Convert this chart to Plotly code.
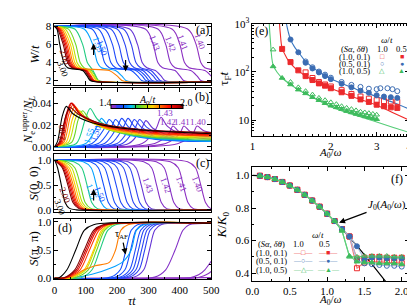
import plotly.graph_objects as go
from plotly.colors import sample_colorscale

# ---------------- data ----------------
A_vals = [1.40, 1.41, 1.42, 1.43, 1.44, 1.45, 1.46, 1.47, 1.48, 1.49, 1.50,
          1.55, 1.60, 1.65, 1.70, 1.75, 1.80, 1.85, 1.90, 1.95, 2.00, 3.00]

# panel (a): W/t levels and the times at which each curve reaches them
W_levels = [8.0, 7.7, 6.0, 4.0, 3.4, 3.1, 2.5, 2.0, 1.85, 1.85]
W_times = [
    [0, 425, 452, 467, 480, 515, 540, 555, 575, 600],
    [0, 375, 400, 415, 430, 480, 500, 512, 530, 600],
    [0, 330, 355, 370, 385, 435, 455, 467, 485, 600],
    [0, 290, 315, 330, 345, 385, 400, 412, 430, 600],
    [0, 240, 265, 280, 295, 322, 340, 352, 370, 600],
    [0, 220, 245, 260, 275, 308, 325, 337, 355, 600],
    [0, 200, 225, 240, 255, 295, 315, 327, 345, 600],
    [0, 180, 205, 220, 235, 282, 300, 312, 330, 600],
    [0, 160, 185, 200, 215, 270, 290, 302, 320, 600],
    [0, 140, 165, 180, 195, 260, 280, 292, 310, 600],
    [0, 120, 145, 160, 175, 245, 265, 278, 295, 600],
    [0, 95, 122, 137, 150, 195, 215, 228, 245, 600],
    [0, 65, 90, 105, 117, 123, 132, 140, 160, 600],
    [0, 45, 68, 82, 95, 118, 130, 140, 156, 600],
    [0, 35, 58, 72, 85, 112, 125, 135, 152, 600],
    [0, 28, 51, 65, 78, 110, 123, 133, 150, 600],
    [0, 23, 45, 59, 72, 175, 200, 215, 235, 600],
    [0, 19, 40, 54, 67, 104, 117, 127, 144, 600],
    [0, 16, 36, 50, 63, 101, 114, 124, 141, 600],
    [0, 13, 32, 46, 59, 98, 111, 121, 138, 600],
    [0, 10, 28, 42, 55, 95, 108, 118, 135, 600],
    [0, 8, 17, 30, 42, 90, 104, 114, 130, 600],
]

# panel (b): N_e^upper / N_L
B_times = [
    [0, 395, 442, 455, 475, 500],
    [0, 355, 400, 413, 433, 485, 540],
    [0, 320, 365, 378, 398, 450, 500],
    [0, 280, 325, 340, 360, 410, 460, 500],
    [0, 237, 277, 292, 314, 370, 440, 500],
    [0, 217, 257, 272, 294, 350, 430, 500],
    [0, 200, 240, 255, 277, 335, 420, 500],
    [0, 180, 220, 235, 257, 315, 405, 500],
    [0, 160, 200, 215, 237, 295, 390, 500],
    [0, 140, 180, 195, 217, 275, 375, 500],
    [0, 120, 160, 175, 197, 255, 360, 500],
    [0, 100, 135, 150, 172, 230, 340, 500],
    [0, 70, 98, 114, 138, 200, 320, 500],
    [0, 55, 75, 90, 115, 180, 305, 500],
    [0, 45, 65, 80, 105, 170, 300, 500],
    [0, 37, 57, 72, 97, 165, 295, 500],
    [0, 30, 50, 65, 90, 160, 290, 500],
    [0, 25, 45, 60, 85, 155, 285, 500],
    [0, 21, 41, 56, 81, 150, 280, 500],
    [0, 18, 38, 53, 78, 145, 275, 500],
    [0, 15, 35, 50, 75, 140, 270, 500],
    [0, 10, 25, 38, 60, 120, 250, 500],
]
B_vals = [
    [0, 0.003, 0.012, 0.019, 0.015, 0.013],
    [0, 0.003, 0.012, 0.019, 0.014, 0.011, 0.010],
    [0, 0.003, 0.012, 0.019, 0.014, 0.010, 0.009],
    [0, 0.003, 0.017, 0.027, 0.019, 0.011, 0.008, 0.007],
    [0, 0.003, 0.016, 0.024, 0.017, 0.010, 0.006, 0.005],
    [0, 0.003, 0.017, 0.025, 0.018, 0.010, 0.006, 0.005],
    [0, 0.003, 0.017, 0.025, 0.018, 0.010, 0.006, 0.005],
    [0, 0.003, 0.018, 0.026, 0.018, 0.010, 0.006, 0.005],
    [0, 0.003, 0.018, 0.026, 0.018, 0.010, 0.006, 0.005],
    [0, 0.003, 0.017, 0.025, 0.018, 0.010, 0.006, 0.005],
    [0, 0.003, 0.017, 0.025, 0.018, 0.010, 0.006, 0.005],
    [0, 0.003, 0.018, 0.026, 0.019, 0.011, 0.007, 0.005],
    [0, 0.003, 0.025, 0.035, 0.025, 0.014, 0.008, 0.006],
    [0, 0.004, 0.024, 0.033, 0.024, 0.015, 0.009, 0.007],
    [0, 0.004, 0.024, 0.033, 0.025, 0.016, 0.010, 0.008],
    [0, 0.004, 0.025, 0.034, 0.026, 0.017, 0.011, 0.009],
    [0, 0.004, 0.027, 0.037, 0.028, 0.018, 0.012, 0.010],
    [0, 0.004, 0.029, 0.039, 0.029, 0.019, 0.013, 0.010],
    [0, 0.004, 0.030, 0.040, 0.030, 0.020, 0.014, 0.011],
    [0, 0.004, 0.030, 0.040, 0.031, 0.021, 0.015, 0.012],
    [0, 0.004, 0.027, 0.036, 0.030, 0.022, 0.016, 0.013],
    [0, 0.005, 0.028, 0.037, 0.030, 0.022, 0.016, 0.012],
]

# panel (c): S(0,0) levels and crossing times
C_levels = [1.0, 0.97, 0.85, 0.5, 0.15, 0.03, 0.0, 0.0]
C_times = [
    [0, 425, 450, 467, 482, 498, 525, 600],
    [0, 370, 395, 411, 426, 442, 470, 600],
    [0, 325, 350, 366, 381, 397, 425, 600],
    [0, 285, 310, 326, 341, 357, 385, 600],
    [0, 235, 260, 277, 292, 308, 335, 600],
    [0, 215, 240, 257, 272, 288, 315, 600],
    [0, 195, 220, 237, 252, 268, 295, 600],
    [0, 175, 200, 217, 232, 248, 275, 600],
    [0, 155, 180, 197, 212, 228, 255, 600],
    [0, 135, 160, 177, 192, 208, 235, 600],
    [0, 115, 140, 157, 172, 188, 215, 600],
    [0, 92, 117, 134, 149, 165, 192, 600],
    [0, 62, 87, 104, 119, 136, 165, 600],
    [0, 40, 65, 83, 98, 116, 145, 600],
    [0, 30, 55, 73, 89, 107, 135, 600],
    [0, 22, 47, 66, 82, 100, 128, 600],
    [0, 17, 41, 60, 76, 94, 122, 600],
    [0, 13, 36, 55, 71, 89, 117, 600],
    [0, 10, 32, 51, 67, 85, 113, 600],
    [0, 8, 28, 47, 63, 81, 109, 600],
    [0, 6, 25, 43, 59, 77, 105, 600],
    [0, 3, 10, 22, 34, 48, 70, 600],
]

# panel (d): S(pi,pi)
D_times = [
    [0, 500],
    [0, 450, 475, 490, 500],
    [0, 430, 460, 480, 500],
    [0, 320, 355, 385, 410, 430, 600],
    [0, 255, 285, 303, 320, 340, 600],
    [0, 240, 270, 288, 305, 325, 600],
    [0, 230, 260, 278, 295, 315, 600],
    [0, 220, 250, 268, 285, 305, 600],
    [0, 210, 240, 258, 275, 295, 600],
    [0, 195, 225, 243, 260, 280, 600],
    [0, 180, 210, 228, 245, 265, 600],
    [0, 60, 120, 180, 220, 245, 262, 285, 600],
    [0, 85, 120, 145, 170, 195, 600],
    [0, 65, 108, 135, 160, 185, 600],
    [0, 55, 100, 128, 155, 180, 600],
    [0, 50, 95, 125, 150, 175, 600],
    [0, 50, 95, 130, 175, 195, 212, 235, 600],
    [0, 40, 82, 112, 142, 170, 600],
    [0, 36, 75, 105, 135, 165, 600],
    [0, 33, 70, 100, 130, 160, 600],
    [0, 30, 65, 95, 125, 155, 600],
    [0, 15, 40, 68, 95, 125, 600],
]
D_vals = [
    [0, 0.01],
    [0, 0.005, 0.04, 0.08, 0.12],
    [0, 0.005, 0.06, 0.15, 0.30],
    [0, 0.02, 0.15, 0.5, 0.85, 0.95, 0.96],
    [0, 0.02, 0.15, 0.5, 0.85, 0.95, 0.96],
    [0, 0.02, 0.15, 0.5, 0.85, 0.95, 0.96],
    [0, 0.02, 0.15, 0.5, 0.85, 0.95, 0.96],
    [0, 0.02, 0.15, 0.5, 0.85, 0.95, 0.96],
    [0, 0.02, 0.15, 0.5, 0.85, 0.95, 0.96],
    [0, 0.02, 0.15, 0.5, 0.85, 0.95, 0.96],
    [0, 0.02, 0.15, 0.5, 0.85, 0.95, 0.96],
    [0, 0.01, 0.07, 0.18, 0.30, 0.5, 0.85, 0.95, 0.96],
    [0, 0.01, 0.15, 0.5, 0.85, 0.95, 0.96],
    [0, 0.01, 0.15, 0.5, 0.85, 0.95, 0.96],
    [0, 0.01, 0.15, 0.5, 0.85, 0.95, 0.96],
    [0, 0.01, 0.15, 0.5, 0.85, 0.95, 0.96],
    [0, 0.02, 0.15, 0.22, 0.28, 0.5, 0.85, 0.95, 0.96],
    [0, 0.01, 0.15, 0.5, 0.85, 0.95, 0.96],
    [0, 0.01, 0.15, 0.5, 0.85, 0.95, 0.96],
    [0, 0.01, 0.15, 0.5, 0.85, 0.95, 0.96],
    [0, 0.01, 0.15, 0.5, 0.85, 0.95, 0.96],
    [0, 0.01, 0.15, 0.5, 0.85, 0.95, 0.96],
]

# panel (e): tau_F t vs A0/omega
e_red_open_x = [1.6, 1.7, 1.8, 1.9, 2.0, 2.2, 2.4, 2.6, 2.8, 3.0, 3.2, 3.4, 3.6]
e_red_open_y = [98, 75, 62, 55, 50, 42, 35, 31, 28, 26, 25, 24.5, 24]
e_red_fill_x = [1.3, 1.4, 1.5, 1.6, 1.7, 1.8, 1.9, 2.0, 2.2, 2.4, 2.6, 2.8, 3.0, 3.2, 3.4, 3.6]
e_red_fill_y = [300, 160, 108, 82, 68, 58, 52, 46, 38, 32, 27, 24, 21, 19.5, 18.5, 18]
e_blue_open_x = [1.6, 1.7, 1.8, 1.9, 2.0, 2.2, 2.4, 2.6, 2.8, 3.0, 3.1, 3.3, 3.45, 3.6]
e_blue_open_y = [165, 125, 102, 88, 76, 62, 54, 49, 45, 44, 46, 46, 44, 40]
e_blue_fill_x = [1.4, 1.5, 1.6, 1.7, 1.8, 1.9, 2.0, 2.2, 2.4, 2.6, 2.8, 3.0, 3.2, 3.4, 3.6]
e_blue_fill_y = [470, 255, 155, 118, 98, 82, 71, 57, 48, 41, 37, 33, 31, 30, 29]
e_green_open_x = [1.2, 1.4, 1.5, 1.6, 1.7, 1.8, 1.9, 2.0, 2.1, 2.2, 2.3, 2.4, 2.5, 2.6, 2.7, 2.8, 2.9, 3.0]
e_green_open_y = [290, 62, 48, 40, 34, 29, 26, 23.5, 21.5, 19.5, 18, 17, 16, 15, 14.5, 14, 13.5, 13]
e_green_fill_x = [1.2, 1.3, 1.4, 1.5, 1.6, 1.7, 1.8, 1.9, 2.0, 2.1, 2.2, 2.3, 2.4, 2.5, 2.6, 2.7, 2.8, 2.9, 3.0]
e_green_fill_y = [130, 75, 55, 43, 36, 30, 26, 22.5, 20, 18.5, 17, 15.5, 14.5, 13.5, 12.8, 12, 11.5, 11, 10.5]
e_fit_blue_x = [1.35, 1.37, 1.4, 1.45, 1.5, 1.6, 1.8, 2.0, 2.5, 3.0, 3.5, 4.0]
e_fit_blue_y = [1000, 700, 470, 330, 260, 165, 100, 72, 44, 31, 23, 17]
e_fit_red_x = [1.27, 1.28, 1.3, 1.35, 1.4, 1.5, 1.7, 2.0, 2.5, 3.0, 3.5, 4.0]
e_fit_red_y = [1000, 600, 310, 200, 150, 105, 68, 46, 29, 20.5, 14, 10]
e_fit_green_x = [1.16, 1.17, 1.2, 1.25, 1.3, 1.4, 1.5, 1.7, 2.0, 2.5, 3.0, 3.5, 4.0]
e_fit_green_y = [1000, 500, 140, 95, 75, 55, 43, 30, 19, 12.5, 9.2, 7, 5.6]

# panel (f): K/K0 vs A0/omega
f_x = [0.1, 0.2, 0.3, 0.4, 0.5, 0.6, 0.7, 0.8, 0.9, 1.0,
       1.1, 1.2, 1.3, 1.4, 1.5, 1.6, 1.7, 1.8, 1.9, 2.0]
f_red_open = [0.998, 0.990, 0.978, 0.960, 0.938, 0.912, 0.881, 0.846, 0.808, 0.765,
              0.720, 0.671, 0.625, 0.430, 0.465, 0.470, 0.470, 0.465, 0.465, 0.460]
f_red_fill = [0.998, 0.990, 0.978, 0.960, 0.938, 0.912, 0.881, 0.846, 0.808, 0.765,
              0.720, 0.671, 0.625, 0.490, 0.495, 0.500, 0.500, 0.495, 0.495, 0.495]
f_blue_open = [0.998, 0.990, 0.978, 0.960, 0.938, 0.912, 0.881, 0.846, 0.808, 0.765,
               0.720, 0.671, 0.625, 0.480, 0.460, 0.455, 0.450, 0.445, 0.445, 0.440]
f_blue_fill = [0.998, 0.990, 0.978, 0.960, 0.938, 0.912, 0.881, 0.846, 0.808, 0.765,
               0.720, 0.671, 0.625, 0.565, 0.485, 0.495, 0.495, 0.490, 0.490, 0.490]
f_green_open = [0.998, 0.990, 0.978, 0.960, 0.938, 0.912, 0.881, 0.846, 0.808, 0.765,
                0.720, 0.660, 0.500, 0.500, 0.505, 0.505, 0.505, 0.505, 0.500, 0.500]
f_green_fill = [0.998, 0.990, 0.978, 0.960, 0.938, 0.912, 0.881, 0.846, 0.808, 0.765,
                0.720, 0.660, 0.505, 0.470, 0.465, 0.465, 0.460, 0.460, 0.460, 0.455]
bessel_x = [0.0, 0.2, 0.4, 0.6, 0.8, 1.0, 1.2, 1.4, 1.6, 1.8, 2.0]
bessel_y = [1.0, 0.990, 0.960, 0.912, 0.846, 0.765, 0.671, 0.567, 0.455, 0.340, 0.224]

# ---------------- styling ----------------
FW, FH = 415, 307
FONT = "Liberation Serif"
cscale = [[0.0, "#9030c0"], [0.06, "#8030c8"], [0.08, "#3040f0"], [0.17, "#1050ff"],
          [0.28, "#00c0ff"], [0.36, "#30d040"], [0.5, "#c0e000"], [0.58, "#ffd000"],
          [0.68, "#ff7000"], [0.8, "#ff1000"], [0.9, "#d00000"], [1.0, "#800000"]]
colors = [c if a <= 2.0 else "black" for a, c in
          zip(A_vals, sample_colorscale(cscale, [min((a - 1.4) / 0.6, 1.0) for a in A_vals]))]


def pxx(x):
    return x / FW


def pxy(y):
    return 1 - y / FH


fig = go.Figure()

LW = 1.1
for i, a in enumerate(A_vals):
    col = colors[i]
    fig.add_trace(go.Scatter(x=W_times[i], y=W_levels, xaxis="x", yaxis="y", mode="lines",
                             line=dict(color=col, width=LW, shape="spline", smoothing=0.8),
                             showlegend=False, hoverinfo="skip"))
    fig.add_trace(go.Scatter(x=B_times[i], y=B_vals[i], xaxis="x2", yaxis="y2", mode="lines",
                             line=dict(color=col, width=LW, shape="spline", smoothing=0.8),
                             showlegend=False, hoverinfo="skip"))
    fig.add_trace(go.Scatter(x=C_times[i], y=C_levels, xaxis="x3", yaxis="y3", mode="lines",
                             line=dict(color=col, width=LW, shape="spline", smoothing=0.8),
                             showlegend=False, hoverinfo="skip"))
    fig.add_trace(go.Scatter(x=D_times[i], y=D_vals[i], xaxis="x4", yaxis="y4", mode="lines",
                             line=dict(color=col, width=LW, shape="spline", smoothing=0.8),
                             showlegend=False, hoverinfo="skip"))

# colorbar in (b)
fig.add_trace(go.Scatter(x=[None], y=[None], xaxis="x2", yaxis="y2", mode="markers",
                         marker=dict(color=[1.4, 2.0], cmin=1.4, cmax=2.0, colorscale=cscale,
                                     showscale=True,
                                     colorbar=dict(orientation="h", x=pxx(137.5), xanchor="center",
                                                   y=pxy(97.5), yanchor="middle", len=75 / FW,
                                                   lenmode="fraction", thickness=4,
                                                   outlinewidth=1, outlinecolor="black",
                                                   showticklabels=False, ticks="inside",
                                                   tickvals=[1.5, 1.6, 1.7, 1.8, 1.9],
                                                   ticklen=4, tickcolor="black", xpad=0, ypad=0)),
                         showlegend=False, hoverinfo="skip"))

# panel (e)
red_c, blue_c, green_c = "#ec2a2c", "#3b6cb3", "#3dbb5c"
fig.add_trace(go.Scatter(x=e_fit_blue_x, y=e_fit_blue_y, xaxis="x5", yaxis="y5", mode="lines",
                         line=dict(color="#3876c0", width=1.1, shape="spline"), showlegend=False))
fig.add_trace(go.Scatter(x=e_fit_red_x, y=e_fit_red_y, xaxis="x5", yaxis="y5", mode="lines",
                         line=dict(color="#f02828", width=1.1, shape="spline"), showlegend=False))
fig.add_trace(go.Scatter(x=e_fit_green_x, y=e_fit_green_y, xaxis="x5", yaxis="y5", mode="lines",
                         line=dict(color="#55cc77", width=1.1, shape="spline"), showlegend=False))
for xs, ys, sym, col in [
    (e_red_open_x, e_red_open_y, "square-open", red_c),
    (e_red_fill_x, e_red_fill_y, "square", red_c),
    (e_blue_open_x, e_blue_open_y, "circle-open", blue_c),
    (e_blue_fill_x, e_blue_fill_y, "circle", blue_c),
    (e_green_open_x, e_green_open_y, "triangle-up-open", green_c),
    (e_green_fill_x, e_green_fill_y, "triangle-up", green_c),
]:
    fig.add_trace(go.Scatter(x=xs, y=ys, xaxis="x5", yaxis="y5", mode="markers",
                             marker=dict(symbol=sym, size=5, color=col, line=dict(color=col, width=1)),
                             showlegend=False))

# panel (f)
fig.add_trace(go.Scatter(x=bessel_x, y=bessel_y, xaxis="x6", yaxis="y6", mode="lines",
                         line=dict(color="black", width=1.2, shape="spline"), showlegend=False))
for ys, sym, col, lc in [
    (f_red_open, "square-open", red_c, "#f27a7a"),
    (f_red_fill, "square", red_c, "#f27a7a"),
    (f_blue_open, "circle-open", blue_c, "#a6bfe0"),
    (f_blue_fill, "circle", blue_c, "#a6bfe0"),
    (f_green_open, "triangle-up-open", green_c, "#5fcf7a"),
    (f_green_fill, "triangle-up", green_c, "#5fcf7a"),
]:
    fig.add_trace(go.Scatter(x=f_x, y=ys, xaxis="x6", yaxis="y6", mode="lines+markers",
                             line=dict(color=lc, width=1.1),
                             marker=dict(symbol=sym, size=5, color=col, line=dict(color=col, width=1)),
                             showlegend=False))

# ---------------- axes ----------------
common = dict(showline=True, linecolor="black", linewidth=1, mirror="ticks", ticks="inside",
              ticklen=4, tickwidth=1, tickcolor="black", showgrid=False, zeroline=False,
              tickfont=dict(family=FONT, size=11, color="black"))
minor_l = dict(ticks="inside", ticklen=2, tickcolor="black", showgrid=False)

LX = [pxx(41), pxx(204)]
RX = [pxx(247), pxx(410)]
layout = dict(
    width=FW, height=FH, margin=dict(l=0, r=0, t=0, b=0),
    paper_bgcolor="white", plot_bgcolor="white",
    font=dict(family=FONT, size=11, color="black"),
    showlegend=False,
)
panels_y = [(8, 72), (75, 140), (144, 205), (212, 275)]
yranges = [[1.5, 8.3], [-0.003, 0.054], [-0.05, 1.13], [-0.02, 1.05]]
ytv = [[2, 4, 6, 8], [0, 0.02, 0.04], [0, 0.5, 1.0], [0, 0.5, 1.0]]
ytf = ["d", ".2f", ".1f", ".1f"]
ymin = [1, 0.01, 0.25, 0.25]
for k in range(4):
    xs = "" if k == 0 else str(k + 1)
    layout["xaxis" + xs] = dict(common, domain=LX, anchor="y" + xs, range=[0, 500],
                                tickvals=[0, 100, 200, 300, 400, 500],
                                showticklabels=(k == 3), minor=dict(minor_l, dtick=50))
    t, b = panels_y[k]
    layout["yaxis" + xs] = dict(common, domain=[pxy(b), pxy(t)], anchor="x" + xs,
                                range=yranges[k], tickvals=ytv[k], tickformat=ytf[k],
                                minor=dict(minor_l, dtick=ymin[k]))

e_minor_x = [1.1, 1.2, 1.3, 1.4, 1.5, 1.6, 1.7, 1.8, 1.9, 2.1, 2.2, 2.3, 2.4, 2.5, 2.6, 2.7, 2.8, 2.9,
             3.1, 3.2, 3.3, 3.4, 3.5, 3.6, 3.7, 3.8, 3.9]
e_minor_y = [6, 7, 8, 9, 20, 30, 40, 50, 60, 70, 80, 90, 200, 300, 400, 500, 600, 700, 800, 900]
layout["xaxis5"] = dict(common, domain=RX, anchor="y5", type="log", range=[0, 0.60206],
                        tickvals=[1, 2, 3, 4], ticktext=["1", "2", "3", "4"],
                        minor=dict(minor_l, tickmode="array", tickvals=e_minor_x))
layout["yaxis5"] = dict(common, domain=[pxy(125), pxy(8)], anchor="x5", type="log",
                        range=[0.68, 3.0], tickvals=[10, 100, 1000],
                        ticktext=["10", "10<sup>2</sup>", "10<sup>3</sup>"],
                        minor=dict(minor_l, tickmode="array", tickvals=e_minor_y))
layout["xaxis6"] = dict(common, domain=RX, anchor="y6", range=[0, 2.1],
                        tickvals=[0, 0.5, 1.0, 1.5, 2.0], tickformat=".1f",
                        minor=dict(minor_l, dtick=0.25))
layout["yaxis6"] = dict(common, domain=[pxy(277), pxy(158)], anchor="x6", range=[0.35, 1.05],
                        tickvals=[0.4, 0.6, 0.8, 1.0], tickformat=".1f",
                        minor=dict(minor_l, dtick=0.1))
fig.update_layout(**layout)

# ---------------- annotations ----------------
ann = []


def paper_text(x, y, text, size=11, color="black", angle=0, xanchor="center"):
    ann.append(dict(x=pxx(x), y=pxy(y), xref="paper", yref="paper", text=text, showarrow=False,
                    font=dict(family=FONT, size=size, color=color), textangle=angle,
                    xanchor=xanchor, yanchor="middle"))


def data_text(xr, yr, x, y, text, color, angle=0, size=9):
    ann.append(dict(x=x, y=y, xref=xr, yref=yr, text=text, showarrow=False,
                    font=dict(family=FONT, size=size, color=color), textangle=angle))


def cidx(a):
    return colors[A_vals.index(a)]


# axis titles
paper_text(20, 40, "<i>W</i>/<i>t</i>", 13, angle=-90)
paper_text(14, 108, "<i>N</i><sub>e</sub><sup>upper</sup>/<i>N</i><sub><i>L</i></sub>", 12, angle=-90)
paper_text(19, 175, "<i>S</i>(0, 0)", 13, angle=-90)
paper_text(19, 243, "<i>S</i>(π, π)", 13, angle=-90)
paper_text(122, 298, "<i>τt</i>", 12)
paper_text(218, 66, "τ<sub>F</sub><i>t</i>", 13, angle=-90)
paper_text(328, 143, "<i>A</i><sub>0</sub>/<i>ω</i>", 11)
paper_text(216, 218, "<i>K</i>/<i>K</i><sub>0</sub>", 13, angle=-90)
paper_text(328, 297, "<i>A</i><sub>0</sub>/<i>ω</i>", 11)

# panel labels
paper_text(195, 15, "(a)", 12)
paper_text(195, 85, "(b)", 12)
paper_text(195, 153, "(c)", 12)
paper_text(52, 221, "(d)", 12)
paper_text(256, 16, "(e)", 12)
paper_text(397, 170, "(f)", 12)

# curve labels (a)
for a, t, v in [(1.40, 466, 6.3), (1.41, 411, 6.2), (1.42, 370, 6.0), (1.43, 319, 6.1)]:
    data_text("x", "y", t, v, f"{a:.2f}", cidx(a), 70)
data_text("x", "y", 138, 6.0, "1.55", cidx(1.55), 70)
data_text("x", "y", 152, 5.6, "1.50", cidx(1.50), 70)
data_text("x", "y", 34, 4.6, "2.00", cidx(2.00), 70)
data_text("x", "y", 27, 3.3, "3.00", "black", 70)
ann.append(dict(x=125, y=6.1, xref="x", yref="y", ax=0, ay=13, text="", showarrow=True,
                arrowhead=2, arrowsize=1, arrowwidth=1.2, arrowcolor="black"))
ann.append(dict(x=227, y=3.0, xref="x", yref="y", ax=0, ay=-13, text="", showarrow=True,
                arrowhead=2, arrowsize=1, arrowwidth=1.2, arrowcolor="black"))

# curve labels (b)
data_text("x2", "y2", 354, 0.031, "1.43", cidx(1.43))
data_text("x2", "y2", 362, 0.0225, "1.42", cidx(1.42))
data_text("x2", "y2", 408, 0.0225, "1.41", cidx(1.41))
data_text("x2", "y2", 458, 0.0225, "1.40", cidx(1.40))
data_text("x2", "y2", 24, 0.013, "2.00", cidx(2.00), -90)
data_text("x2", "y2", 110, 0.010, "1.55", cidx(1.55), -70)
data_text("x2", "y2", 131, 0.013, "1.50", cidx(1.50), -70)
paper_text(94, 90, "1.4", 10)
paper_text(178, 90, "2.0", 10)
paper_text(137, 88, "<i>A</i><sub>0</sub>/<i>t</i>", 10)

# curve labels (c)
for a, t, v in [(1.40, 457, 0.53), (1.41, 406, 0.53), (1.42, 355, 0.5), (1.43, 298, 0.5)]:
    data_text("x3", "y3", t, v, f"{a:.2f}", cidx(a), 70)
data_text("x3", "y3", 120, 0.37, "1.55", cidx(1.55), 70)
data_text("x3", "y3", 145, 0.32, "1.50", cidx(1.50), 70)
data_text("x3", "y3", 33, 0.30, "2.00", cidx(2.00), 70)
data_text("x3", "y3", 17, 0.06, "3.00", "black", 70)
ann.append(dict(x=125, y=0.42, xref="x3", yref="y3", ax=0, ay=13, text="", showarrow=True,
                arrowhead=2, arrowsize=1, arrowwidth=1.2, arrowcolor="black"))

# (d) tau_AF arrow
ann.append(dict(x=227, y=0.42, xref="x4", yref="y4", ax=-4, ay=-20,
                text="τ<sub>AF</sub>", showarrow=True, arrowhead=2, arrowsize=1, arrowwidth=1.2,
                arrowcolor="black", font=dict(family=FONT, size=10, color="black")))

# legend (e)
paper_text(387, 25, "<i>ω</i>/<i>t</i>", 9)
paper_text(353, 34.5, "(<i>Sα</i>, <i>δθ</i>)", 8.5)
paper_text(382, 34.5, "1.0", 8.5)
paper_text(402, 34.5, "0.5", 8.5)
for yy, lab, o, f, col in [(42.5, "(1.0, 0.1)", "□", "■", red_c),
                           (50, "(0.5, 0.1)", "○", "●", blue_c),
                           (57.5, "(1.0, 0.5)", "△", "▲", green_c)]:
    paper_text(353, yy, lab, 8.5)
    paper_text(382, yy, o, 7, col)
    paper_text(402, yy, f, 7, col)

# legend (f)
paper_text(315, 229, "<i>ω</i>/<i>t</i>", 9)
paper_text(267, 238, "(<i>Sα</i>, <i>δθ</i>)", 8.5)
paper_text(295, 238, "1.0", 8.5)
paper_text(322, 238, "0.5", 8.5)
for yy, lab, o, f, col in [(247, "(1.0, 0.1)", "—□—", "—■—", red_c),
                           (256, "(0.5, 0.1)", "—○—", "—●—", blue_c),
                           (265.5, "(1.0, 0.5)", "—△—", "—▲—", green_c)]:
    paper_text(267, yy, lab, 8.5)
    paper_text(300, yy, o, 7, col)
    paper_text(326, yy, f, 7, col)

# J0 arrow
ann.append(dict(x=1.16, y=0.71, xref="x6", yref="y6", ax=48, ay=-18,
                text="<i>J</i><sub>0</sub>(<i>A</i><sub>0</sub>/<i>ω</i>)", showarrow=True,
                arrowhead=2, arrowsize=1, arrowwidth=1.2, arrowcolor="black",
                font=dict(family=FONT, size=11, color="black")))

fig.update_layout(annotations=ann)
fig.write_html("out.html")
